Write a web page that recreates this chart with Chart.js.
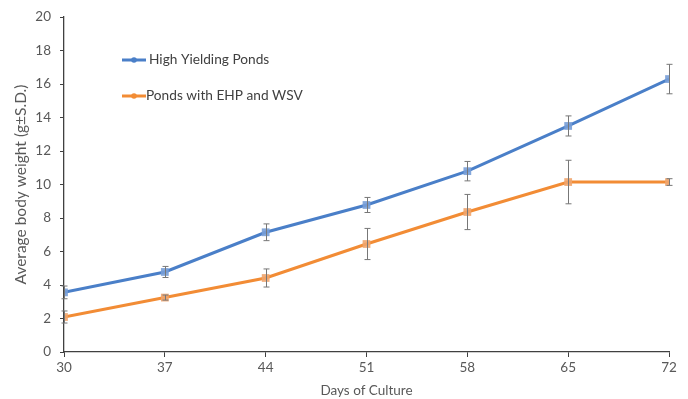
<!DOCTYPE html>
<html>
<head>
<meta charset="utf-8">
<script src="https://cdn.jsdelivr.net/npm/chart.js@4.4.1/dist/chart.umd.min.js"></script>
<style>
  html, body { margin: 0; padding: 0; background: #ffffff; }
  #wrap { width: 688px; height: 399px; position: relative; }
</style>
</head>
<body>
<div id="wrap"><canvas id="c" width="688" height="399"></canvas></div>
<script>
// Days of culture (x axis)
const days = [30, 37, 44, 51, 58, 65, 72];
// Mean body weight (g) and standard deviation per sampling day
const highYield = [3.56, 4.78, 7.15, 8.78, 10.8, 13.5, 16.3];
const highYieldSD = [0.38, 0.33, 0.5, 0.45, 0.58, 0.6, 0.88];
const ehpWsv = [2.09, 3.25, 4.42, 6.45, 8.36, 10.15, 10.15];
const ehpWsvSD = [0.36, 0.15, 0.54, 0.93, 1.05, 1.3, 0.2];
const yTicks = [0, 2, 4, 6, 8, 10, 12, 14, 16, 18, 20];
const seriesNames = ['High Yielding Ponds', 'Ponds with EHP and WSV'];

const BLUE = '#4a7fc8';
const ORANGE = '#f28c35';
const FONT = 'Lato, "Open Sans", "Liberation Sans", sans-serif';
const TEXT = '#595959';

const toPoints = (vals) => days.map((d, i) => ({ x: d, y: vals[i] }));

// Vertical error bars with caps, placed through the chart scales
const errorBars = {
  id: 'errorBars',
  afterDatasetsDraw(chart) {
    const { ctx } = chart;
    const xs = chart.scales.x, ys = chart.scales.y;
    const sets = [[highYield, highYieldSD], [ehpWsv, ehpWsvSD]];
    ctx.save();
    ctx.strokeStyle = '#777777';
    ctx.lineWidth = 1;
    sets.forEach(([vals, sd]) => {
      days.forEach((d, i) => {
        const px = Math.round(xs.getPixelForValue(d)) + 0.5;
        const top = ys.getPixelForValue(vals[i] + sd[i]);
        const bot = ys.getPixelForValue(vals[i] - sd[i]);
        ctx.beginPath();
        ctx.moveTo(px, top); ctx.lineTo(px, bot);
        ctx.moveTo(px - 3, top); ctx.lineTo(px + 3, top);
        ctx.moveTo(px - 3, bot); ctx.lineTo(px + 3, bot);
        ctx.stroke();
      });
    });
    ctx.restore();
  }
};

// Legend drawn inside the plot area, top-left
const innerLegend = {
  id: 'innerLegend',
  afterDraw(chart) {
    const { ctx } = chart;
    const rows = [
      { color: BLUE, x0: 122, x1: 146, tx: 149, y: 60 },
      { color: ORANGE, x0: 122, x1: 146, tx: 146, y: 96 }
    ];
    ctx.save();
    ctx.font = '13.7px ' + FONT;
    ctx.textBaseline = 'middle';
    rows.forEach((r, i) => {
      ctx.strokeStyle = r.color;
      ctx.lineWidth = 3;
      ctx.beginPath();
      ctx.moveTo(r.x0, r.y); ctx.lineTo(r.x1, r.y);
      ctx.stroke();
      ctx.fillStyle = r.color;
      ctx.beginPath();
      ctx.arc((r.x0 + r.x1) / 2, r.y, 2.8, 0, Math.PI * 2);
      ctx.fill();
      ctx.fillStyle = '#404040';
      ctx.fillText(chart.data.datasets[i].label, r.tx, r.y);
    });
    ctx.restore();
  }
};

new Chart(document.getElementById('c'), {
  type: 'line',
  data: {
    datasets: [
      {
        label: seriesNames[0],
        data: toPoints(highYield),
        borderColor: BLUE,
        backgroundColor: 'rgba(120,158,215,0.9)',
        borderWidth: 3,
        pointStyle: 'rect',
        pointRadius: 5.5,
        pointBorderWidth: 0,
        tension: 0
      },
      {
        label: seriesNames[1],
        data: toPoints(ehpWsv),
        borderColor: ORANGE,
        backgroundColor: 'rgba(240,165,110,0.9)',
        borderWidth: 3,
        pointStyle: 'rect',
        pointRadius: 5.5,
        pointBorderWidth: 0,
        tension: 0
      }
    ]
  },
  options: {
    responsive: false,
    animation: false,
    devicePixelRatio: 1,
    layout: { padding: { top: 14, right: 19, left: 0, bottom: 0 } },
    plugins: { legend: { display: false }, tooltip: { enabled: false } },
    scales: {
      x: {
        type: 'linear',
        min: days[0],
        max: days[days.length - 1],
        afterBuildTicks(scale) { scale.ticks = days.map(v => ({ value: v })); },
        afterFit(scale) { scale.height = 47; },
        grid: { drawOnChartArea: false, drawTicks: true, tickLength: 5, color: '#404040' },
        border: { color: '#404040', width: 1.3 },
        ticks: { color: TEXT, font: { family: FONT, size: 13.5 }, padding: 3, maxRotation: 0 },
        title: { display: true, text: 'Days of Culture', color: TEXT, font: { family: FONT, size: 13.5 }, padding: { top: 1, bottom: 0 } }
      },
      y: {
        min: yTicks[0],
        max: yTicks[yTicks.length - 1],
        afterBuildTicks(scale) { scale.ticks = yTicks.map(v => ({ value: v })); },
        afterFit(scale) { scale.width = 64; },
        grid: { drawOnChartArea: false, drawTicks: true, tickLength: 4, color: '#404040' },
        border: { color: '#404040', width: 1.3 },
        ticks: { color: TEXT, font: { family: FONT, size: 13.5 }, padding: 9 },
        title: { display: true, text: 'Average body weight (g±S.D.)', color: TEXT, font: { family: FONT, size: 15.5 }, padding: { top: 12, bottom: 0 } }
      }
    }
  },
  plugins: [errorBars, innerLegend]
});
</script>
</body>
</html>
